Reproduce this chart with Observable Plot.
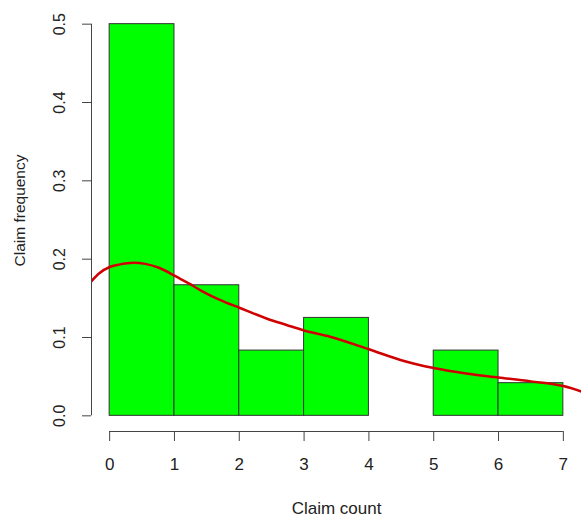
<!DOCTYPE html>
<html>
<head>
<meta charset="utf-8">
<script src="https://cdn.jsdelivr.net/npm/d3@7"></script>
<script src="https://cdn.jsdelivr.net/npm/@observablehq/plot@0.6"></script>
<style>
  html, body { margin: 0; padding: 0; background: #fff; }
  svg { display: block; }
</style>
</head>
<body>
<div id="chart"></div>
<script>
// Histogram bins (claim count) and relative frequencies
const binStart = [0, 1, 2, 3, 4, 5, 6];
const binEnd   = [1, 2, 3, 4, 5, 6, 7];
const freq     = [0.5, 0.1667, 0.0833, 0.125, 0, 0.0833, 0.0417];

// Kernel density curve
const densX = [-0.28, -0.16, 0, 0.14, 0.37, 0.55, 0.76, 1.0, 1.22, 1.43, 1.7, 2.0, 2.43, 2.73, 3.0, 3.4, 4.0, 4.5, 5.0, 5.5, 6.0, 6.5, 7.0, 7.28];
const densY = [0.172, 0.182, 0.190, 0.193, 0.1955, 0.194, 0.189, 0.179, 0.169, 0.159, 0.148, 0.138, 0.124, 0.116, 0.109, 0.101, 0.085, 0.071, 0.061, 0.054, 0.049, 0.044, 0.038, 0.031];

// Tick labels
const xTicks = [0, 1, 2, 3, 4, 5, 6, 7];
const yTicks = [0, 0.1, 0.2, 0.3, 0.4, 0.5];

const bars = binStart.map((s, i) => ({x1: s, x2: binEnd[i], y: freq[i]}));
const dens = densX.map((x, i) => ({x, y: densY[i]}));

const xDomain = [-0.28, 7.28];
const yDomain = [-0.02, 0.52];
const font = "Liberation Sans, Arial, sans-serif";

const chart = Plot.plot({
  width: 581,
  height: 521,
  marginLeft: 91,
  marginRight: 0,
  marginTop: 8,
  marginBottom: 90,
  style: {fontFamily: font, background: "#fff"},
  x: {domain: xDomain},
  y: {domain: yDomain},
  marks: [
    Plot.rectY(bars, {x1: "x1", x2: "x2", y1: 0, y2: "y", fill: "#00ff00", stroke: "#333", strokeWidth: 1}),
    Plot.line(dens, {x: "x", y: "y", curve: "monotone-x", stroke: "#d00000", strokeWidth: 2.5, clip: true}),
    // x axis
    Plot.ruleY([yDomain[0]], {x1: xTicks[0], x2: xTicks[xTicks.length - 1], stroke: "#444"}),
    Plot.axisX(xTicks, {tickSize: 10, tickPadding: 16, fontSize: 17, stroke: "#444", fill: "#222", tickFormat: d => String(d), label: null}),
    // y axis
    Plot.ruleX([xDomain[0]], {y1: yTicks[0], y2: yTicks[yTicks.length - 1], stroke: "#444"}),
    Plot.axisY(yTicks, {tickSize: 9, tickPadding: 18, tickRotate: -90, fontSize: 16, stroke: "#444", fill: "#222", tickFormat: d3.format(".1f"), label: null}),
    // axis titles
    Plot.text(["Claim count"], {frameAnchor: "bottom", dy: 77, lineAnchor: "middle", textAnchor: "middle", fontSize: 17, fill: "#222", fontFamily: font}),
    Plot.text(["Claim frequency"], {frameAnchor: "left", dx: -71, dy: -9.5, rotate: -90, textAnchor: "middle", lineAnchor: "middle", fontSize: 15.5, fill: "#222", fontFamily: font})
  ]
});
document.getElementById("chart").appendChild(chart);
</script>
</body>
</html>
